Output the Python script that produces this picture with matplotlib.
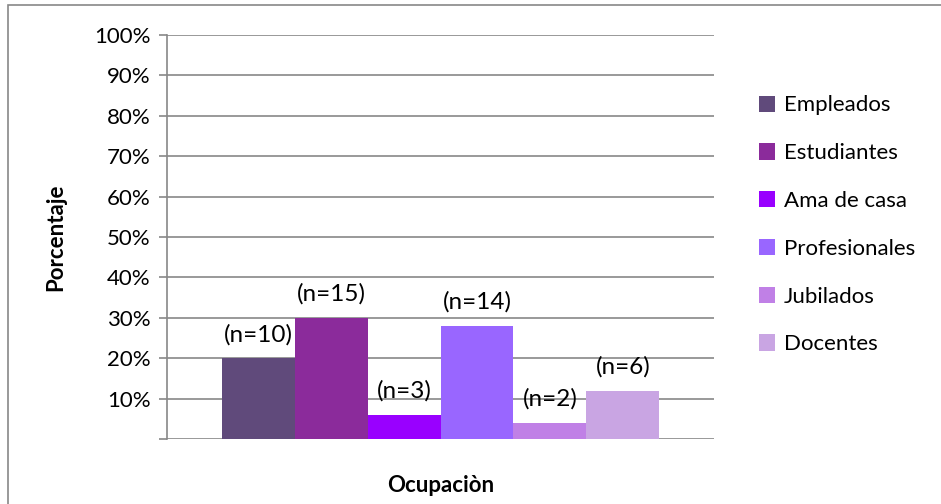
import matplotlib.pyplot as plt
from matplotlib.patches import Rectangle
from matplotlib.ticker import FuncFormatter
import numpy as np

categorias = ['Empleados', 'Estudiantes', 'Ama de casa', 'Profesionales', 'Jubilados', 'Docentes']
n_casos = [10, 15, 3, 14, 2, 6]
porcentajes = [20, 30, 6, 28, 4, 12]
colores = ['#604a7b', '#8b2b9b', '#9900ff', '#9966ff', '#c080e6', '#c9a5e3']

plt.rcParams['font.family'] = ['Lato', 'DejaVu Sans']

fig = plt.figure(figsize=(9.41, 5.04), dpi=100)
ax = fig.add_axes([167 / 941, 1 - 439 / 504, (714 - 167) / 941, (439 - 35) / 504])

# borde exterior del grafico
fig.patches.append(Rectangle((8 / 941, -0.1), 1.0, 1 - 5 / 504 + 0.1, transform=fig.transFigure,
                             fill=False, edgecolor='#888888', linewidth=1.2))

ancho = 0.8 / len(categorias)
x = np.arange(len(categorias)) * ancho - 0.4 + ancho / 2
for i in range(len(categorias)):
    ax.bar(x[i], porcentajes[i], width=ancho, color=colores[i], label=categorias[i], zorder=3)
    ax.annotate(f'(n={n_casos[i]})', (x[i], porcentajes[i]), xytext=(0, 17), textcoords='offset points',
                ha='center', va='center', fontsize=17.5, zorder=4)

ax.set_xlim(-0.5, 0.5)
ax.set_ylim(0, 100)
ax.set_yticks(np.arange(0, 101, 10))
ax.yaxis.set_major_formatter(FuncFormatter(lambda v, p: '' if v == 0 else f'{int(v)}%'))
ax.set_xticks([])
ax.grid(axis='y', color='#888888', linewidth=1.2, zorder=0)
ax.tick_params(axis='y', length=6, color='#888888', width=1.2, labelsize=16, pad=6)
for lado in ['top', 'right', 'bottom']:
    ax.spines[lado].set_visible(False)
ax.spines['left'].set_color('#888888')
ax.spines['left'].set_linewidth(1.2)

ax.set_ylabel('Porcentaje', fontsize=16, fontweight='bold', labelpad=20)
ax.set_xlabel('Ocupaciòn', fontsize=16, fontweight='bold', labelpad=26)

ax.legend(loc='upper left', bbox_to_anchor=(1.045, 0.9), frameon=False, fontsize=16,
          handlelength=0.75, handleheight=0.75, handletextpad=0.4, labelspacing=1.25)

fig.savefig('out.png', dpi=100)
